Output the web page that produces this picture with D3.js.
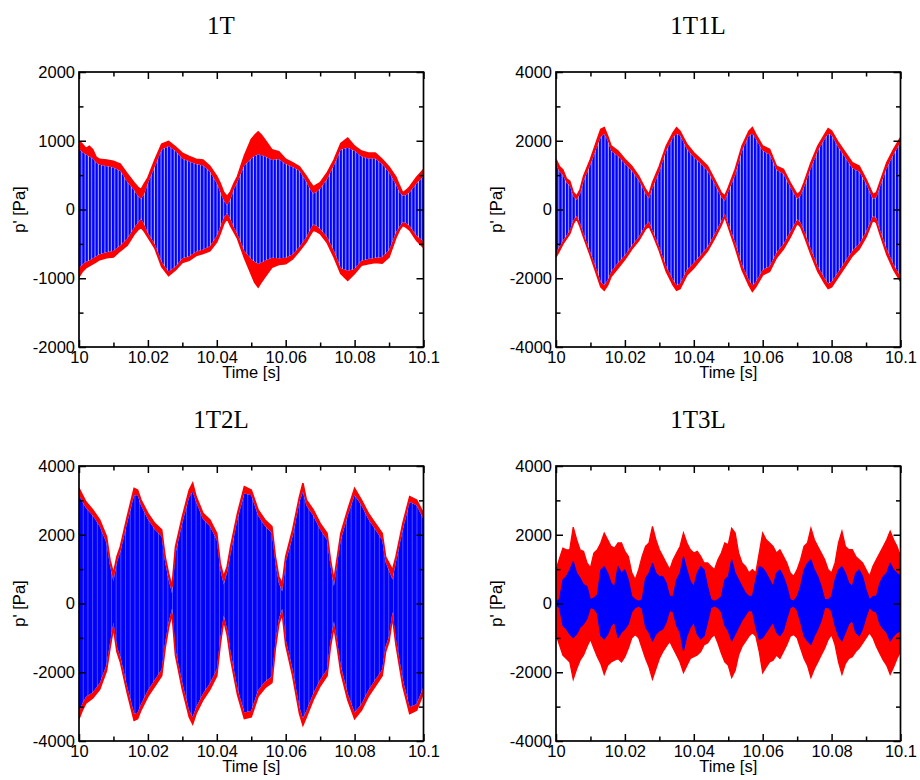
<!DOCTYPE html>
<html><head><meta charset="utf-8">
<script src="https://cdn.jsdelivr.net/npm/d3@7"></script>
<style>body{margin:0;background:#fff}</style>
</head><body><svg id="c" width="920" height="780"></svg>
<script>
// ---------------- DATA ----------------
const titles = ["1T", "1T1L", "1T2L", "1T3L"];
const xLabel = "Time [s]";
const yLabel = "p' [Pa]";
const xTickValues = [10, 10.02, 10.04, 10.06, 10.08, 10.1];
const xTickLabels = ["10", "10.02", "10.04", "10.06", "10.08", "10.1"];
const xMinorTicks = [10.01, 10.03, 10.05, 10.07, 10.09];
const yTicksSmall = [-2000, -1000, 0, 1000, 2000];
const yTickLabelsSmall = ["-2000", "-1000", "0", "1000", "2000"];
const yMinorSmall = [-1500, -500, 500, 1500];
const yTicksLarge = [-4000, -2000, 0, 2000, 4000];
const yTickLabelsLarge = ["-4000", "-2000", "0", "2000", "4000"];
const yMinorLarge = [-3000, -1000, 1000, 3000];

// Panel 1T : envelopes (Pa)
const time1T = [10.000,10.001,10.002,10.003,10.004,10.005,10.006,10.008,10.010,10.012,10.014,10.016,10.017,10.018,10.019,10.020,10.022,10.024,10.026,10.028,10.030,10.032,10.034,10.036,10.038,10.040,10.041,10.042,10.043,10.044,10.045,10.046,10.048,10.050,10.051,10.052,10.053,10.054,10.056,10.058,10.060,10.062,10.064,10.066,10.067,10.068,10.069,10.070,10.072,10.074,10.076,10.078,10.080,10.082,10.084,10.086,10.088,10.090,10.092,10.093,10.094,10.095,10.096,10.098,10.100];
const red1THi = [1000,950,890,920,870,760,730,720,700,660,520,390,330,290,380,460,720,950,990,910,820,770,730,720,630,480,380,250,190,260,380,480,780,1020,1080,1130,1080,1010,870,840,730,680,620,480,400,330,360,390,530,720,960,1040,920,850,820,820,730,620,470,350,240,280,330,470,580];
const red1TLo = [-980,-900,-850,-820,-790,-760,-730,-700,-690,-600,-520,-360,-300,-260,-320,-400,-560,-830,-960,-880,-770,-740,-670,-640,-600,-470,-350,-210,-130,-240,-330,-420,-700,-940,-1060,-1130,-1050,-980,-840,-800,-790,-720,-600,-470,-380,-300,-320,-350,-480,-690,-930,-1030,-930,-810,-790,-770,-780,-690,-410,-300,-230,-260,-300,-450,-550];
const blue1THi = [880,830,800,770,740,680,650,630,610,560,400,280,200,150,230,380,620,870,920,850,740,700,660,640,550,380,250,130,60,150,300,400,640,740,780,800,790,770,720,730,660,620,560,400,300,230,260,300,440,640,870,900,850,770,740,740,660,540,360,250,200,210,250,380,480];
const blue1TLo = [-850,-800,-760,-740,-710,-680,-650,-620,-600,-520,-420,-260,-200,-130,-220,-340,-500,-760,-900,-830,-710,-680,-610,-580,-530,-380,-250,-120,-50,-140,-260,-360,-600,-720,-760,-790,-770,-740,-700,-710,-700,-650,-540,-400,-300,-210,-240,-280,-400,-600,-850,-890,-860,-740,-720,-700,-690,-590,-330,-250,-180,-200,-240,-380,-460];

// Panel 1T1L
const time1T1L = [10.000,10.001,10.002,10.003,10.004,10.005,10.006,10.007,10.008,10.010,10.012,10.013,10.014,10.015,10.016,10.018,10.020,10.022,10.024,10.026,10.027,10.028,10.030,10.032,10.034,10.035,10.036,10.038,10.040,10.042,10.044,10.046,10.048,10.049,10.050,10.052,10.054,10.056,10.057,10.058,10.060,10.062,10.064,10.066,10.068,10.070,10.071,10.072,10.074,10.076,10.078,10.079,10.080,10.082,10.084,10.086,10.088,10.090,10.092,10.093,10.094,10.096,10.098,10.100];
const red1T1LHi = [1460,1250,1150,900,820,500,390,580,970,1460,2040,2330,2380,2140,1850,1700,1460,1260,970,580,435,775,1260,1845,2235,2380,2280,1895,1650,1460,1260,875,485,390,630,1165,1845,2280,2380,2185,1845,1750,1260,1165,775,435,520,775,1360,1845,2185,2350,2280,1940,1650,1360,1260,875,435,485,775,1360,1750,2090];
const red1T1LLo = [-1380,-1200,-1000,-850,-700,-420,-260,-500,-800,-1350,-1950,-2250,-2350,-2200,-1950,-1700,-1450,-1150,-900,-560,-480,-700,-1200,-1800,-2200,-2350,-2300,-1900,-1700,-1450,-1200,-850,-450,-200,-500,-1100,-1750,-2200,-2380,-2250,-1900,-1800,-1400,-1150,-800,-400,-500,-750,-1300,-1800,-2150,-2300,-2250,-1950,-1650,-1350,-1150,-800,-300,-380,-700,-1300,-1750,-2090];
const blue1T1LHi = [1300,1100,1000,780,700,380,280,450,820,1300,1850,2100,2200,2000,1700,1550,1330,1120,850,450,320,620,1100,1700,2100,2200,2150,1750,1520,1330,1120,750,350,250,500,1000,1700,2150,2200,2050,1700,1600,1150,1030,650,300,400,650,1200,1700,2050,2200,2150,1800,1500,1200,1100,750,300,350,650,1200,1600,1950];
const blue1T1LLo = [-1250,-1080,-900,-760,-600,-320,-180,-400,-700,-1250,-1800,-2100,-2200,-2050,-1800,-1550,-1330,-1050,-800,-450,-350,-600,-1100,-1650,-2050,-2200,-2150,-1750,-1550,-1320,-1080,-720,-330,-120,-400,-950,-1600,-2050,-2200,-2100,-1750,-1650,-1250,-1000,-650,-280,-380,-620,-1150,-1650,-2000,-2150,-2100,-1800,-1500,-1200,-1000,-650,-180,-250,-580,-1150,-1600,-1950];

// Panel 1T2L
const time1T2L = [10.000,10.001,10.002,10.004,10.006,10.008,10.009,10.010,10.011,10.012,10.014,10.016,10.017,10.018,10.020,10.022,10.024,10.025,10.026,10.027,10.028,10.030,10.032,10.033,10.034,10.036,10.038,10.040,10.041,10.042,10.043,10.044,10.046,10.048,10.050,10.052,10.054,10.056,10.057,10.058,10.059,10.060,10.062,10.064,10.065,10.066,10.068,10.070,10.072,10.073,10.074,10.075,10.076,10.078,10.080,10.082,10.084,10.086,10.088,10.089,10.090,10.091,10.092,10.094,10.096,10.098,10.100];
const red1T2LHi = [3350,3150,2960,2720,2430,1940,1260,875,1360,1650,2525,3350,3300,3010,2620,2330,2140,1360,875,485,1650,2525,3300,3500,3110,2620,2430,2040,1165,775,1070,1650,2620,3400,3300,2720,2430,2235,1360,775,580,1360,2140,3110,3500,3010,2720,2330,2040,1260,680,1360,2040,2720,3350,3010,2620,2330,2040,1360,1165,970,1360,2330,3110,3010,2620];
const red1T2LLo = [-3350,-3100,-2900,-2750,-2500,-1950,-1300,-700,-1400,-1700,-2600,-3400,-3350,-3100,-2700,-2400,-2100,-1300,-700,-290,-1500,-2500,-3300,-3500,-3200,-2800,-2500,-2100,-1200,-485,-900,-1600,-2650,-3350,-3300,-2700,-2450,-2300,-1300,-600,-290,-1200,-2100,-3200,-3540,-3300,-2800,-2400,-2100,-1250,-680,-1300,-2000,-2800,-3350,-3100,-2700,-2400,-2100,-1400,-1100,-390,-1200,-2400,-3200,-3100,-2600];
const blue1T2LHi = [3150,2950,2780,2550,2250,1750,1100,650,1200,1500,2350,3150,3150,2850,2450,2150,1950,1200,700,300,1450,2350,3100,3250,2950,2450,2250,1850,1000,550,900,1450,2450,3200,3150,2550,2250,2050,1200,600,350,1200,1950,2950,3250,2850,2550,2150,1850,1100,500,1200,1850,2550,3150,2850,2450,2150,1850,1200,950,700,1200,2150,2950,2850,2450];
const blue1T2LLo = [-3150,-2900,-2720,-2580,-2320,-1780,-1150,-550,-1250,-1550,-2420,-3200,-3180,-2920,-2520,-2220,-1920,-1150,-550,-150,-1350,-2320,-3120,-3300,-3020,-2620,-2320,-1920,-1050,-350,-750,-1420,-2470,-3170,-3120,-2520,-2270,-2120,-1150,-450,-150,-1050,-1920,-3020,-3340,-3120,-2620,-2220,-1920,-1100,-520,-1150,-1820,-2620,-3170,-2920,-2520,-2220,-1920,-1250,-950,-250,-1050,-2220,-3020,-2920,-2420];

// Panel 1T3L
const time1T3L = [10.000,10.001,10.002,10.003,10.004,10.005,10.006,10.007,10.008,10.009,10.010,10.011,10.012,10.013,10.014,10.015,10.016,10.017,10.018,10.019,10.020,10.021,10.022,10.023,10.024,10.025,10.026,10.027,10.028,10.029,10.030,10.031,10.032,10.033,10.034,10.035,10.036,10.037,10.038,10.039,10.040,10.041,10.042,10.043,10.044,10.045,10.046,10.047,10.048,10.049,10.050,10.051,10.052,10.053,10.054,10.055,10.056,10.057,10.058,10.059,10.060,10.061,10.062,10.063,10.064,10.065,10.066,10.067,10.068,10.069,10.070,10.071,10.072,10.073,10.074,10.075,10.076,10.077,10.078,10.079,10.080,10.081,10.082,10.083,10.084,10.085,10.086,10.087,10.088,10.089,10.090,10.091,10.092,10.093,10.094,10.095,10.096,10.097,10.098,10.099,10.100];
const red1T3LHi = [985,1300,1610,1560,1565,2220,1855,1560,1515,1180,1035,1470,1565,1760,2050,1855,1660,1610,1760,1760,1515,1370,890,695,985,1370,1660,1760,2240,1855,1565,1370,1180,985,1275,1470,1660,2050,1760,1565,1470,1515,1370,1180,1180,1080,985,1275,1470,1760,1710,2190,2050,1470,1180,1080,890,985,890,1470,2050,1855,1760,1660,1470,1565,1370,1180,890,790,985,1275,1660,1760,2190,1855,1660,1470,1275,985,890,1180,1760,2100,1660,1565,1565,1370,1275,1180,985,790,1080,1275,1470,1660,1855,2100,1855,1660,1370];
const red1T3LLo = [-900,-1200,-1500,-1600,-1700,-2200,-1900,-1650,-1500,-1250,-1040,-1300,-1550,-1750,-2060,-1800,-1700,-1650,-1600,-1700,-1550,-1300,-1000,-900,-1000,-1300,-1600,-1850,-2200,-1900,-1600,-1400,-1250,-1100,-1300,-1500,-1700,-2010,-1800,-1600,-1550,-1500,-1400,-1200,-1150,-1000,-900,-1150,-1450,-1700,-1800,-2150,-1950,-1500,-1250,-1100,-950,-850,-950,-1400,-2010,-1850,-1700,-1650,-1500,-1600,-1400,-1200,-950,-900,-1000,-1300,-1600,-1800,-2150,-1900,-1700,-1500,-1300,-1050,-900,-1200,-1700,-2060,-1750,-1600,-1550,-1400,-1300,-1150,-1000,-850,-1000,-1250,-1450,-1650,-1800,-2060,-1850,-1600,-1400];
const blue1T3LHi = [70,115,695,790,985,1225,890,745,550,500,115,165,260,985,1080,890,600,500,1080,890,985,695,210,115,70,115,745,890,1180,890,790,790,600,210,210,695,890,1370,985,650,500,890,1080,985,500,115,70,115,210,695,790,1275,890,695,500,310,210,210,695,1080,1035,890,695,500,890,985,790,500,115,70,210,500,985,1180,1275,985,790,500,115,115,210,695,985,1080,890,600,500,890,985,790,405,115,210,210,600,790,890,1180,985,890,790];
const blue1T3LLo = [-70,-115,-650,-750,-900,-1000,-900,-700,-600,-450,-120,-150,-300,-950,-1040,-900,-650,-550,-1000,-850,-750,-600,-250,-120,-80,-150,-700,-850,-1100,-900,-800,-750,-550,-200,-250,-650,-850,-1380,-950,-700,-550,-900,-1040,-950,-550,-120,-80,-120,-250,-650,-800,-1100,-900,-700,-500,-350,-200,-220,-700,-1050,-1000,-850,-700,-550,-850,-950,-800,-450,-120,-80,-200,-550,-950,-1100,-1200,-950,-750,-500,-120,-120,-220,-650,-950,-1100,-850,-600,-500,-850,-950,-750,-400,-120,-220,-250,-600,-750,-850,-1100,-950,-850,-800];

// ---------------- CHART ----------------
const svg = d3.select("#c");
const W = 344.5, H = 275;
const FONT = "'Liberation Sans', Arial, Helvetica, sans-serif";

const defs = svg.append("defs");
// oscillation texture for the dense carrier signal
const pA = defs.append("pattern").attr("id", "stripesA").attr("patternUnits", "userSpaceOnUse")
  .attr("width", 3.3).attr("height", 10);
pA.append("rect").attr("width", 3.3).attr("height", 10).attr("fill", "#aeaeff");
pA.append("rect").attr("width", 2.3).attr("height", 10).attr("fill", "#0000ff");
const pB = defs.append("pattern").attr("id", "stripesB").attr("patternUnits", "userSpaceOnUse")
  .attr("width", 4.7).attr("height", 10);
pB.append("rect").attr("width", 4.7).attr("height", 10).attr("fill", "#6a6aff");
pB.append("rect").attr("width", 4.0).attr("height", 10).attr("fill", "#0000ff");

const panels = [
  {title: titles[0], ox: 79, oy: 72, yd: [-2000, 2000], yt: yTicksSmall, yl: yTickLabelsSmall, ym: yMinorSmall,
   time: time1T, rh: red1THi, rl: red1TLo, bh: blue1THi, bl: blue1TLo, fill: "url(#stripesA)", solid: false},
  {title: titles[1], ox: 556, oy: 72, yd: [-4000, 4000], yt: yTicksLarge, yl: yTickLabelsLarge, ym: yMinorLarge,
   time: time1T1L, rh: red1T1LHi, rl: red1T1LLo, bh: blue1T1LHi, bl: blue1T1LLo, fill: "url(#stripesA)", solid: false},
  {title: titles[2], ox: 79, oy: 466, yd: [-4000, 4000], yt: yTicksLarge, yl: yTickLabelsLarge, ym: yMinorLarge,
   time: time1T2L, rh: red1T2LHi, rl: red1T2LLo, bh: blue1T2LHi, bl: blue1T2LLo, fill: "url(#stripesB)", solid: false},
  {title: titles[3], ox: 556, oy: 466, yd: [-4000, 4000], yt: yTicksLarge, yl: yTickLabelsLarge, ym: yMinorLarge,
   time: time1T3L, rh: red1T3LHi, rl: red1T3LLo, bh: blue1T3LHi, bl: blue1T3LLo, fill: "#0000ff", solid: true}
];

panels.forEach((p, pi) => {
  const g = svg.append("g").attr("transform", `translate(${p.ox},${p.oy})`);
  const x = d3.scaleLinear().domain([10, 10.1]).range([0, W]);
  const y = d3.scaleLinear().domain(p.yd).range([H, 0]);

  const clipId = "clip" + pi;
  defs.append("clipPath").attr("id", clipId).append("rect").attr("width", W).attr("height", H);
  const data = p.time.map((t, i) => ({t, rh: p.rh[i], rl: p.rl[i], bh: p.bh[i], bl: p.bl[i]}));
  const plot = g.append("g").attr("clip-path", `url(#${clipId})`);

  const area = (lo, hi) => d3.area().x(d => x(d.t)).y0(d => y(d[lo])).y1(d => y(d[hi]));
  const line = key => d3.line().x(d => x(d.t)).y(d => y(d[key]));

  if (p.solid) {
    plot.append("path").datum(data).attr("d", area("rl", "rh")).attr("fill", "#ff0000")
      .attr("stroke", "#ff0000").attr("stroke-width", 1.3);
    plot.append("path").datum(data).attr("d", area("bl", "bh")).attr("fill", p.fill)
      .attr("stroke", "#0000ff").attr("stroke-width", 1);
  } else {
    plot.append("path").datum(data).attr("d", area("bh", "rh")).attr("fill", "#ff0000");
    plot.append("path").datum(data).attr("d", area("rl", "bl")).attr("fill", "#ff0000");
    plot.append("path").datum(data).attr("d", area("bl", "bh")).attr("fill", p.fill);
    ["rh", "rl"].forEach(k => plot.append("path").datum(data).attr("d", line(k))
      .attr("fill", "none").attr("stroke", "#ff0000").attr("stroke-width", 1.6));
  }

  // axes with inward ticks
  const styleAxis = sel => {
    sel.select(".domain").remove();
    sel.selectAll(".tick line").attr("stroke", "#000").attr("stroke-width", 1.5);
    sel.selectAll(".tick text").attr("font-family", FONT).attr("font-size", 16.5).attr("fill", "#000");
  };
  g.append("g").call(d3.axisLeft(y).tickValues(p.yt).tickFormat((d, i) => p.yl[i]).tickSize(-7).tickPadding(4)).call(styleAxis);
  g.append("g").call(d3.axisLeft(y).tickValues(p.ym).tickFormat("").tickSize(-4.5)).call(styleAxis);
  g.append("g").attr("transform", `translate(${W},0)`).call(d3.axisRight(y).tickValues(p.yt).tickFormat("").tickSize(-7)).call(styleAxis);
  g.append("g").attr("transform", `translate(${W},0)`).call(d3.axisRight(y).tickValues(p.ym).tickFormat("").tickSize(-4.5)).call(styleAxis);
  g.append("g").attr("transform", `translate(0,${H})`).call(d3.axisBottom(x).tickValues(xTickValues).tickFormat((d, i) => xTickLabels[i]).tickSize(-7).tickPadding(4)).call(styleAxis);
  g.append("g").attr("transform", `translate(0,${H})`).call(d3.axisBottom(x).tickValues(xMinorTicks).tickFormat("").tickSize(-4.5)).call(styleAxis);
  g.append("g").call(d3.axisTop(x).tickValues(xTickValues).tickFormat("").tickSize(-7)).call(styleAxis);
  g.append("g").call(d3.axisTop(x).tickValues(xMinorTicks).tickFormat("").tickSize(-4.5)).call(styleAxis);

  g.append("rect").attr("width", W).attr("height", H).attr("fill", "none")
    .attr("stroke", "#000").attr("stroke-width", 1.7);

  g.append("text").attr("x", W / 2).attr("y", H + 31).attr("text-anchor", "middle")
    .attr("font-family", FONT).attr("font-size", 16.5).text(xLabel);
  g.append("text").attr("transform", `translate(-54,${H / 2}) rotate(-90)`).attr("text-anchor", "middle")
    .attr("font-family", FONT).attr("font-size", 16.5).text(yLabel);
  g.append("text").attr("x", 142).attr("y", -38.5).attr("text-anchor", "middle")
    .attr("font-family", "'Liberation Serif', 'Times New Roman', serif").attr("font-size", 25).text(p.title);
});
</script></body></html>
